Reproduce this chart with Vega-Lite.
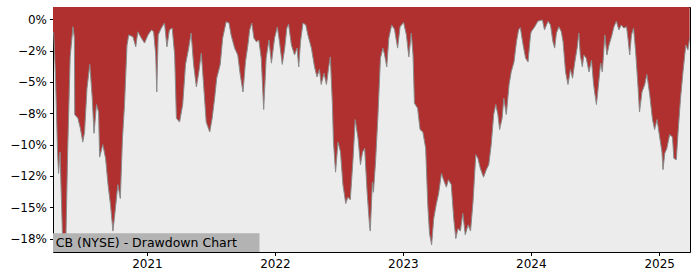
{
  "$schema": "https://vega.github.io/schema/vega-lite/v6.json",
  "width": 637,
  "height": 245,
  "autosize": {"type": "none"},
  "padding": {"left": 53, "top": 7, "right": 10, "bottom": 28},
  "background": "white",
  "config": {
    "font": "DejaVu Sans",
    "view": {"fill": "#ececec", "stroke": "#000000", "strokeWidth": 1},
    "axis": {"labelFont": "DejaVu Sans", "labelFontSize": 12, "labelColor": "#000000", "tickColor": "#000000", "tickSize": 3.5, "domain": false, "grid": false, "labelOverlap": false}
  },
  "datasets": {
    "drawdown": [
    {"date": "2020-04-08", "dd": -1.0}, {"date": "2020-04-10", "dd": -1.1}, {"date": "2020-04-15", "dd": -4.4}, {"date": "2020-04-21", "dd": -10.6}, {"date": "2020-04-24", "dd": -12.3}, {"date": "2020-04-28", "dd": -10.6}, {"date": "2020-05-05", "dd": -17.2}, {"date": "2020-05-08", "dd": -18.5}, {"date": "2020-05-11", "dd": -18.4}, {"date": "2020-05-15", "dd": -17.2}, {"date": "2020-05-20", "dd": -10.3}, {"date": "2020-05-27", "dd": -3.0}, {"date": "2020-06-04", "dd": -0.6}, {"date": "2020-06-08", "dd": -1.5}, {"date": "2020-06-09", "dd": -7.6}, {"date": "2020-06-18", "dd": -7.9}, {"date": "2020-06-25", "dd": -8.7}, {"date": "2020-07-02", "dd": -9.8}, {"date": "2020-07-07", "dd": -9.0}, {"date": "2020-07-14", "dd": -5.5}, {"date": "2020-07-22", "dd": -3.6}, {"date": "2020-07-29", "dd": -6.3}, {"date": "2020-08-03", "dd": -9.1}, {"date": "2020-08-10", "dd": -6.8}, {"date": "2020-08-16", "dd": -7.4}, {"date": "2020-08-19", "dd": -11.0}, {"date": "2020-08-28", "dd": -10.0}, {"date": "2020-09-05", "dd": -11.1}, {"date": "2020-09-12", "dd": -13.2}, {"date": "2020-09-19", "dd": -14.8}, {"date": "2020-09-26", "dd": -16.9}, {"date": "2020-09-30", "dd": -15.9}, {"date": "2020-10-10", "dd": -13.2}, {"date": "2020-10-17", "dd": -14.3}, {"date": "2020-10-23", "dd": -9.6}, {"date": "2020-10-29", "dd": -6.8}, {"date": "2020-11-05", "dd": -2.1}, {"date": "2020-11-10", "dd": -1.25}, {"date": "2020-11-22", "dd": -1.4}, {"date": "2020-11-30", "dd": -2.2}, {"date": "2020-12-06", "dd": -1.0}, {"date": "2020-12-16", "dd": -1.5}, {"date": "2020-12-25", "dd": -1.9},
    {"date": "2021-01-04", "dd": -1.25}, {"date": "2021-01-14", "dd": -0.85}, {"date": "2021-01-20", "dd": -1.0}, {"date": "2021-01-26", "dd": -2.85}, {"date": "2021-01-29", "dd": -5.8}, {"date": "2021-02-02", "dd": -1.25}, {"date": "2021-02-11", "dd": -0.7}, {"date": "2021-02-20", "dd": -0.3}, {"date": "2021-02-27", "dd": -2.2}, {"date": "2021-03-06", "dd": -0.85}, {"date": "2021-03-14", "dd": -0.7}, {"date": "2021-03-21", "dd": -2.85}, {"date": "2021-03-26", "dd": -7.9}, {"date": "2021-04-04", "dd": -8.2}, {"date": "2021-04-13", "dd": -6.8}, {"date": "2021-04-21", "dd": -3.6}, {"date": "2021-04-30", "dd": -2.3}, {"date": "2021-05-07", "dd": -1.1}, {"date": "2021-05-14", "dd": -3.6}, {"date": "2021-05-22", "dd": -5.4}, {"date": "2021-05-29", "dd": -4.2}, {"date": "2021-06-05", "dd": -2.7}, {"date": "2021-06-11", "dd": -5.0}, {"date": "2021-06-19", "dd": -8.2}, {"date": "2021-06-29", "dd": -9.0}, {"date": "2021-07-06", "dd": -7.9}, {"date": "2021-07-13", "dd": -6.3}, {"date": "2021-07-19", "dd": -4.7}, {"date": "2021-07-29", "dd": -3.6}, {"date": "2021-08-05", "dd": -1.5}, {"date": "2021-08-15", "dd": -0.2}, {"date": "2021-08-23", "dd": -0.3}, {"date": "2021-08-29", "dd": -1.25}, {"date": "2021-09-08", "dd": -2.3}, {"date": "2021-09-17", "dd": -2.85}, {"date": "2021-09-24", "dd": -4.4}, {"date": "2021-10-02", "dd": -5.8}, {"date": "2021-10-09", "dd": -3.4}, {"date": "2021-10-16", "dd": -2.05}, {"date": "2021-10-21", "dd": -0.85}, {"date": "2021-10-27", "dd": -0.3}, {"date": "2021-11-02", "dd": -1.5}, {"date": "2021-11-09", "dd": -1.8}, {"date": "2021-11-16", "dd": -1.65}, {"date": "2021-11-23", "dd": -3.1}, {"date": "2021-11-30", "dd": -7.2}, {"date": "2021-12-07", "dd": -3.1}, {"date": "2021-12-15", "dd": -1.65}, {"date": "2021-12-22", "dd": -3.5}, {"date": "2021-12-31", "dd": -1.5},
    {"date": "2022-01-08", "dd": -0.6}, {"date": "2022-01-14", "dd": -1.8}, {"date": "2022-01-22", "dd": -3.6}, {"date": "2022-01-29", "dd": -2.3}, {"date": "2022-02-04", "dd": -0.7}, {"date": "2022-02-09", "dd": -0.4}, {"date": "2022-02-17", "dd": -2.05}, {"date": "2022-02-26", "dd": -2.85}, {"date": "2022-03-05", "dd": -2.3}, {"date": "2022-03-10", "dd": -3.8}, {"date": "2022-03-15", "dd": -1.8}, {"date": "2022-03-22", "dd": -0.3}, {"date": "2022-03-30", "dd": -0.45}, {"date": "2022-04-05", "dd": -1.25}, {"date": "2022-04-15", "dd": -2.3}, {"date": "2022-04-24", "dd": -3.8}, {"date": "2022-05-01", "dd": -4.6}, {"date": "2022-05-08", "dd": -4.0}, {"date": "2022-05-13", "dd": -5.2}, {"date": "2022-05-21", "dd": -4.3}, {"date": "2022-05-28", "dd": -5.2}, {"date": "2022-06-03", "dd": -3.9}, {"date": "2022-06-08", "dd": -3.0}, {"date": "2022-06-14", "dd": -6.8}, {"date": "2022-06-17", "dd": -9.8}, {"date": "2022-06-23", "dd": -12.2}, {"date": "2022-06-30", "dd": -9.8}, {"date": "2022-07-07", "dd": -10.6}, {"date": "2022-07-14", "dd": -13.2}, {"date": "2022-07-22", "dd": -14.7}, {"date": "2022-07-28", "dd": -14.2}, {"date": "2022-08-04", "dd": -14.4}, {"date": "2022-08-12", "dd": -11.1}, {"date": "2022-08-18", "dd": -8.0}, {"date": "2022-08-26", "dd": -9.5}, {"date": "2022-09-02", "dd": -11.6}, {"date": "2022-09-08", "dd": -10.6}, {"date": "2022-09-14", "dd": -10.3}, {"date": "2022-09-21", "dd": -13.8}, {"date": "2022-09-28", "dd": -16.5}, {"date": "2022-09-30", "dd": -16.9}, {"date": "2022-10-06", "dd": -13.0}, {"date": "2022-10-09", "dd": -13.8}, {"date": "2022-10-15", "dd": -11.4}, {"date": "2022-10-22", "dd": -7.6}, {"date": "2022-10-29", "dd": -3.1}, {"date": "2022-11-05", "dd": -2.3}, {"date": "2022-11-10", "dd": -2.85}, {"date": "2022-11-16", "dd": -3.8}, {"date": "2022-11-22", "dd": -1.5}, {"date": "2022-11-30", "dd": -0.45}, {"date": "2022-12-08", "dd": -0.8}, {"date": "2022-12-17", "dd": -2.3}, {"date": "2022-12-24", "dd": -0.6},
    {"date": "2023-01-03", "dd": -0.25}, {"date": "2023-01-11", "dd": -1.25}, {"date": "2023-01-18", "dd": -3.0}, {"date": "2023-01-25", "dd": -1.1}, {"date": "2023-01-30", "dd": -2.85}, {"date": "2023-02-03", "dd": -6.7}, {"date": "2023-02-12", "dd": -7.1}, {"date": "2023-02-19", "dd": -8.8}, {"date": "2023-02-27", "dd": -9.0}, {"date": "2023-03-07", "dd": -10.3}, {"date": "2023-03-13", "dd": -14.8}, {"date": "2023-03-18", "dd": -17.1}, {"date": "2023-03-24", "dd": -18.0}, {"date": "2023-03-30", "dd": -15.9}, {"date": "2023-04-06", "dd": -14.8}, {"date": "2023-04-13", "dd": -13.9}, {"date": "2023-04-21", "dd": -12.3}, {"date": "2023-04-27", "dd": -12.8}, {"date": "2023-05-05", "dd": -13.4}, {"date": "2023-05-11", "dd": -12.8}, {"date": "2023-05-19", "dd": -13.2}, {"date": "2023-05-26", "dd": -15.9}, {"date": "2023-06-01", "dd": -17.5}, {"date": "2023-06-07", "dd": -16.7}, {"date": "2023-06-14", "dd": -16.9}, {"date": "2023-06-21", "dd": -15.5}, {"date": "2023-06-28", "dd": -17.2}, {"date": "2023-07-06", "dd": -16.4}, {"date": "2023-07-13", "dd": -16.9}, {"date": "2023-07-20", "dd": -14.6}, {"date": "2023-07-28", "dd": -10.8}, {"date": "2023-08-03", "dd": -11.1}, {"date": "2023-08-10", "dd": -11.9}, {"date": "2023-08-19", "dd": -12.6}, {"date": "2023-08-27", "dd": -12.0}, {"date": "2023-09-03", "dd": -11.6}, {"date": "2023-09-10", "dd": -10.0}, {"date": "2023-09-17", "dd": -7.6}, {"date": "2023-09-23", "dd": -6.8}, {"date": "2023-09-29", "dd": -7.6}, {"date": "2023-10-04", "dd": -8.8}, {"date": "2023-10-11", "dd": -7.9}, {"date": "2023-10-16", "dd": -6.3}, {"date": "2023-10-23", "dd": -7.6}, {"date": "2023-10-31", "dd": -5.2}, {"date": "2023-11-06", "dd": -4.2}, {"date": "2023-11-14", "dd": -3.4}, {"date": "2023-11-21", "dd": -1.8}, {"date": "2023-11-27", "dd": -0.85}, {"date": "2023-12-02", "dd": -0.65}, {"date": "2023-12-09", "dd": -1.9}, {"date": "2023-12-17", "dd": -3.1}, {"date": "2023-12-24", "dd": -3.4}, {"date": "2023-12-31", "dd": -1.25},
    {"date": "2024-01-02", "dd": -1.0}, {"date": "2024-01-12", "dd": -0.6}, {"date": "2024-01-21", "dd": -0.15}, {"date": "2024-02-03", "dd": -0.05}, {"date": "2024-02-09", "dd": -0.85}, {"date": "2024-02-19", "dd": -0.15}, {"date": "2024-02-26", "dd": -0.45}, {"date": "2024-03-04", "dd": -1.8}, {"date": "2024-03-09", "dd": -2.3}, {"date": "2024-03-14", "dd": -1.1}, {"date": "2024-03-21", "dd": -0.6}, {"date": "2024-03-28", "dd": -1.0}, {"date": "2024-04-02", "dd": -1.8}, {"date": "2024-04-09", "dd": -4.2}, {"date": "2024-04-16", "dd": -5.2}, {"date": "2024-04-23", "dd": -4.0}, {"date": "2024-04-29", "dd": -4.7}, {"date": "2024-05-05", "dd": -3.5}, {"date": "2024-05-12", "dd": -2.3}, {"date": "2024-05-17", "dd": -1.1}, {"date": "2024-05-21", "dd": -2.85}, {"date": "2024-05-27", "dd": -3.8}, {"date": "2024-05-31", "dd": -2.85}, {"date": "2024-06-07", "dd": -3.1}, {"date": "2024-06-15", "dd": -4.2}, {"date": "2024-06-22", "dd": -3.25}, {"date": "2024-06-28", "dd": -5.2}, {"date": "2024-07-06", "dd": -6.8}, {"date": "2024-07-11", "dd": -5.5}, {"date": "2024-07-18", "dd": -3.5}, {"date": "2024-07-23", "dd": -4.2}, {"date": "2024-07-30", "dd": -1.25}, {"date": "2024-08-05", "dd": -2.85}, {"date": "2024-08-11", "dd": -2.05}, {"date": "2024-08-18", "dd": -1.4}, {"date": "2024-08-25", "dd": -0.6}, {"date": "2024-09-01", "dd": -0.15}, {"date": "2024-09-08", "dd": -0.85}, {"date": "2024-09-15", "dd": -0.45}, {"date": "2024-09-22", "dd": -0.7}, {"date": "2024-09-30", "dd": -0.6}, {"date": "2024-10-04", "dd": -1.5}, {"date": "2024-10-09", "dd": -2.85}, {"date": "2024-10-14", "dd": -1.25}, {"date": "2024-10-20", "dd": -0.7}, {"date": "2024-10-26", "dd": -2.6}, {"date": "2024-11-02", "dd": -5.5}, {"date": "2024-11-06", "dd": -7.4}, {"date": "2024-11-13", "dd": -5.8}, {"date": "2024-11-21", "dd": -5.2}, {"date": "2024-11-27", "dd": -4.4}, {"date": "2024-12-05", "dd": -6.0}, {"date": "2024-12-13", "dd": -8.0}, {"date": "2024-12-19", "dd": -8.8}, {"date": "2024-12-26", "dd": -8.0},
    {"date": "2025-01-03", "dd": -9.5}, {"date": "2025-01-09", "dd": -10.6}, {"date": "2025-01-12", "dd": -12.0}, {"date": "2025-01-17", "dd": -10.7}, {"date": "2025-01-23", "dd": -10.3}, {"date": "2025-01-31", "dd": -9.2}, {"date": "2025-02-08", "dd": -9.4}, {"date": "2025-02-12", "dd": -11.1}, {"date": "2025-02-19", "dd": -11.2}, {"date": "2025-02-24", "dd": -9.0}, {"date": "2025-03-03", "dd": -6.3}, {"date": "2025-03-10", "dd": -4.2}, {"date": "2025-03-18", "dd": -2.05}, {"date": "2025-03-24", "dd": -2.45}, {"date": "2025-03-29", "dd": -1.5}
    ],
    "caption": [{"label": "CB (NYSE) - Drawdown Chart"}]
  },
  "layer": [
    {
      "data": {"name": "drawdown"},
      "mark": {"type": "area", "color": "#b03030", "clip": true, "interpolate": "linear"},
      "encoding": {
        "x": {
          "field": "date", "type": "temporal",
          "scale": {"domain": [{"year": 2020, "month": 4, "date": 8}, {"year": 2025, "month": 3, "date": 30}]},
          "axis": {"title": null, "format": "%Y", "tickCount": {"interval": "year", "step": 1}, "labelPadding": 3, "labelFlush": false}
        },
        "y": {
          "field": "dd", "type": "quantitative",
          "scale": {"domain": [-18.57, 0.98], "nice": false, "zero": false},
          "axis": {"title": null, "values": [0, -2.5, -5, -7.5, -10, -12.5, -15, -17.5], "tickCount": 20, "labelPadding": 3, "labelOverlap": false, "labelBound": false,
            "labelExpr": "datum.value == 0 ? '0%' : datum.value == -2.5 ? '\u22122%' : datum.value == -5 ? '\u22125%' : datum.value == -7.5 ? '\u22128%' : datum.value == -10 ? '\u221210%' : datum.value == -12.5 ? '\u221212%' : datum.value == -15 ? '\u221215%' : '\u221218%'"}
        },
        "y2": {"datum": 3}
      }
    },
    {
      "data": {"name": "drawdown"},
      "mark": {"type": "line", "color": "#8a8a8a", "strokeWidth": 1, "clip": true},
      "encoding": {
        "x": {"field": "date", "type": "temporal"},
        "y": {"field": "dd", "type": "quantitative"}
      }
    },
    {
      "data": {"name": "caption"},
      "mark": {"type": "rect", "color": "#b3b3b3", "clip": true},
      "encoding": {
        "x": {"datum": {"year": 2020, "month": 4, "date": 8}, "type": "temporal"},
        "x2": {"datum": {"year": 2021, "month": 11, "date": 18}},
        "y": {"datum": -18.57, "type": "quantitative"},
        "y2": {"datum": -17.08}
      }
    },
    {
      "data": {"name": "caption"},
      "mark": {"type": "text", "align": "left", "baseline": "middle", "fontSize": 12.5, "font": "DejaVu Sans", "color": "#000000"},
      "encoding": {
        "x": {"datum": {"year": 2020, "month": 4, "date": 16}, "type": "temporal"},
        "y": {"datum": -17.83, "type": "quantitative"},
        "text": {"field": "label", "type": "nominal"}
      }
    }
  ]
}
